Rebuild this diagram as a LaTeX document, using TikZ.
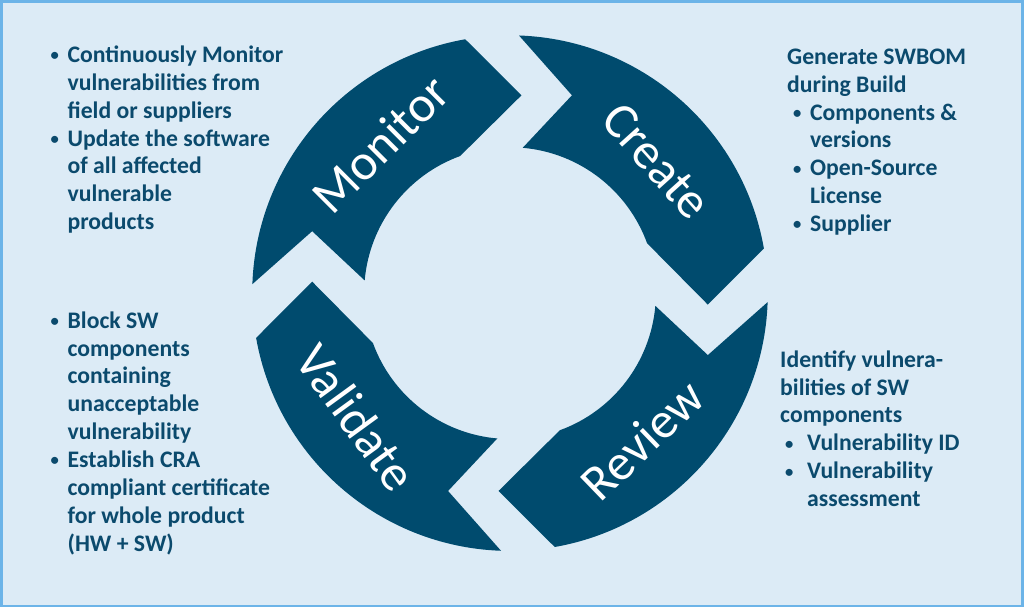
\documentclass[tikz,border=0pt]{standalone}
\usepackage{fontspec}
\setmainfont{Carlito}
\definecolor{bgc}{HTML}{DCEBF6}
\definecolor{bord}{HTML}{6CB4E8}
\definecolor{wheel}{HTML}{004B6E}
\definecolor{txt}{HTML}{0B4A6D}
\newcommand\bul{\raisebox{0.15ex}{\scalebox{0.7}{•}}}
\newcommand\bl{\makebox[0.34cm][l]{\bul}}
\newcommand\ind{\hspace*{0.34cm}}
\begin{document}
\begin{tikzpicture}[x=0.02cm,y=-0.02cm,
  block/.style={anchor=north west,inner sep=0,align=left,text=txt,font=\bfseries\fontsize{13.5}{15.9}\selectfont},
  seg/.style={fill=wheel},
  wlabel/.style={text=white,font=\fontsize{29}{32}\selectfont}]
\draw[bord,line width=1.5pt,fill=bgc] (1,1) rectangle (1023,606);
\useasboundingbox (0,0) rectangle (1024,607);
\begin{scope}[shift={(510,293)},x=1cm,y=1cm]
  \foreach \k in {0,1,2,3}{
    \begin{scope}[rotate=-90*\k]
      \fill[seg] (178:5.16) -- (-3.96,1.24) -- (175:2.92)
        arc[start angle=175,end angle=110,radius=2.92cm] -- (0.23,3.96) -- (100:5.16)
        arc[start angle=100,end angle=178,radius=5.16cm] -- cycle;
    \end{scope}}
  \node[wlabel,rotate=45] (mon) at (131:3.95) {Monitor};
  \node[wlabel,rotate=-48] (cre) at (42:3.95) {Create};
  \node[wlabel,rotate=44] (rev) at (-48:3.95) {Review};
  \node[wlabel,rotate=-54] (val) at (-141:3.95) {Validate};
\end{scope}
\node[block] (tl) at (50,45) {\bl Continuously Monitor\\ \ind vulnerabilities from\\ \ind field or suppliers\\ \bl Update the software\\ \ind of all affected\\ \ind vulnerable\\ \ind products};
\node[block] (tr) at (787,48) {Generate SWBOM\\ during Build\\ \hspace*{0.12cm}\bl Components \&\\ \hspace*{0.12cm}\ind versions\\ \hspace*{0.12cm}\bl Open-Source\\ \hspace*{0.12cm}\ind License\\ \hspace*{0.12cm}\bl Supplier};
\node[block] (ml) at (50,311) {\bl Block SW\\ \ind components\\ \ind containing\\ \ind unacceptable\\ \ind vulnerability\\ \bl Establish CRA\\ \ind compliant certificate\\ \ind for whole product\\ \ind (HW + SW)};
\node[block] (br) at (780,350) {Identify vulnera-\\ bilities of SW\\ components\\ \hspace*{0.1cm}\makebox[0.44cm][l]{\bul}Vulnerability ID\\ \hspace*{0.1cm}\makebox[0.44cm][l]{\bul}Vulnerability\\ \hspace*{0.54cm}assessment};
\end{tikzpicture}
\end{document}
